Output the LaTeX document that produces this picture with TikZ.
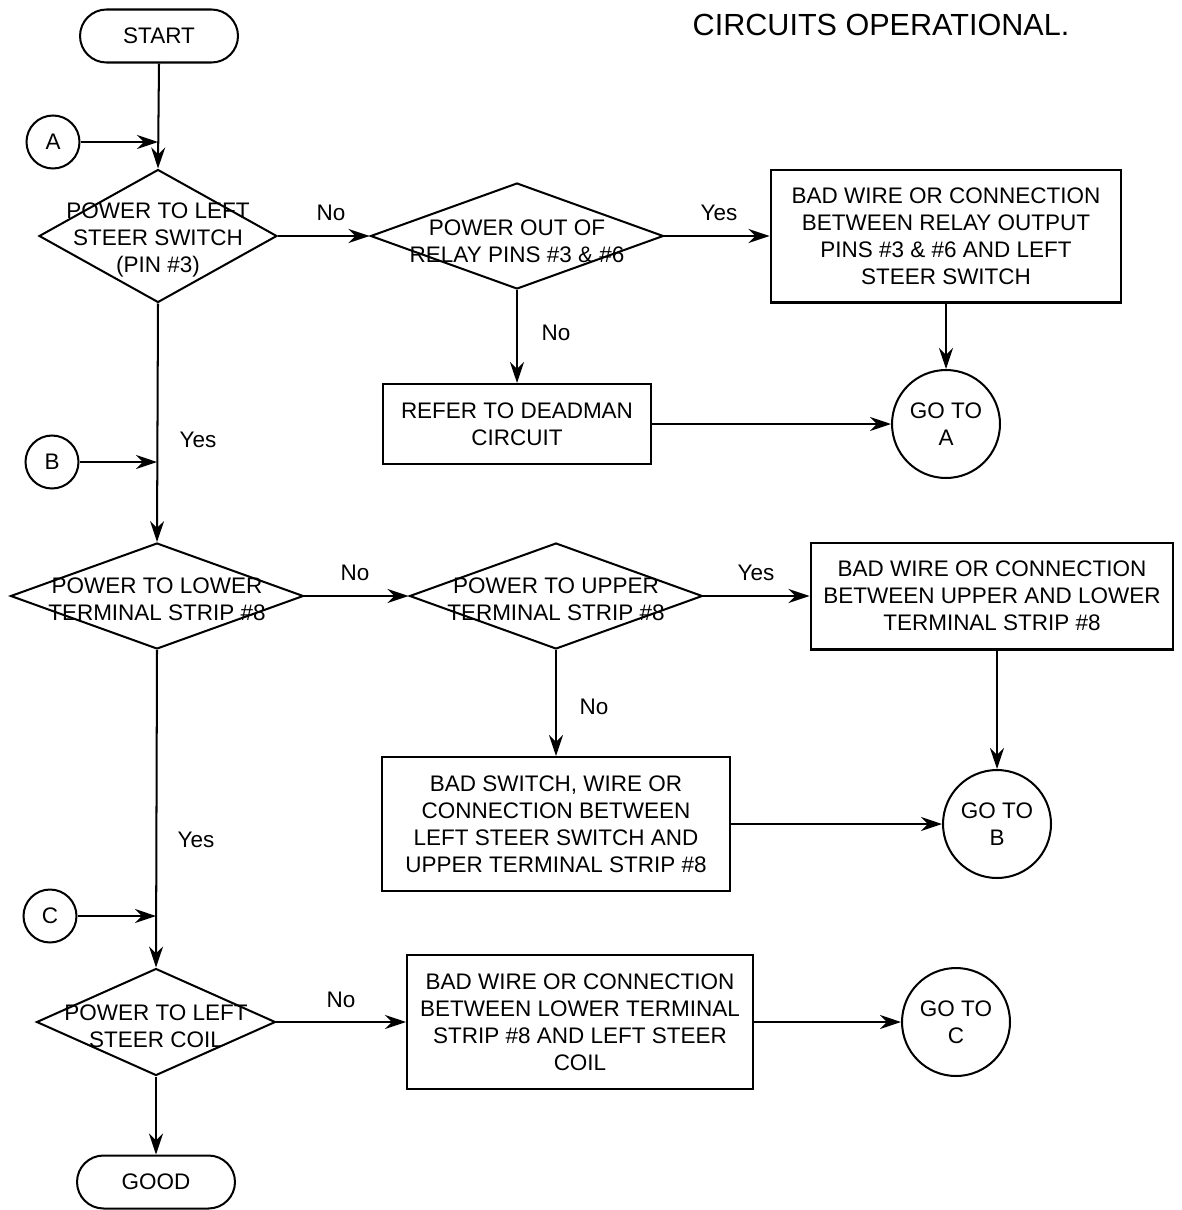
\documentclass[tikz,border=0pt]{standalone}
\usepackage{fontspec}
\setmainfont{Liberation Sans}
\usetikzlibrary{arrows.meta,shapes.geometric}
\newcommand{\FlowText}{\fontsize{12.8}{15.4}\selectfont}
\newcommand{\FlowTitle}{\fontsize{17.4}{20}\selectfont}
\tikzset{
  flowbase/.style={
    draw=black,
    line width=1.15pt,
    align=center,
    inner sep=2pt,
    font=\FlowText
  },
  flowbox/.style={flowbase, rectangle},
  terminalbox/.style={
    flowbase,
    rectangle,
    rounded corners=0.53cm,
    minimum width=3.16cm,
    minimum height=1.06cm
  },
  decisionbox/.style={flowbase, diamond, inner sep=0pt},
  decisiontext/.style={align=center, inner sep=0pt, font=\FlowText},
  connbox/.style={flowbase, circle, minimum size=1.06cm, inner sep=0pt},
  gotobox/.style={flowbase, circle, minimum size=2.16cm, inner sep=0pt},
  mainarrow/.style={
    -{Stealth[length=4.2mm,width=2.8mm]},
    draw=black,
    line width=1.15pt
  },
  arrowlabel/.style={inner sep=1pt, font=\FlowText}
}

\begin{document}
\begin{tikzpicture}[x=0.02cm,y=-0.02cm]
\path[use as bounding box] (0,0) rectangle (1181,1210);

\node[font=\FlowTitle] (title) at (881,25) {CIRCUITS OPERATIONAL.};

% left column
\node[terminalbox] (start) at (159,36) {START};
\node[decisionbox, minimum width=4.76cm, minimum height=2.66cm] (qswitch) at (158,236) {};
\node[decisiontext] (qswitchtext) at (158,240) {POWER TO LEFT\\STEER SWITCH\\(PIN \#3)};
\node[decisionbox, minimum width=5.86cm, minimum height=2.12cm] (qlower) at (157,596) {};
\node[decisiontext] (qlowertext) at (157,599) {POWER TO LOWER\\TERMINAL STRIP \#8};
\node[decisionbox, minimum width=4.78cm, minimum height=2.14cm] (qcoil) at (156,1022) {};
\node[decisiontext] (qcoiltext) at (156,1026) {POWER TO LEFT\\STEER COIL};
\node[terminalbox] (good) at (156,1182) {GOOD};

\node[connbox] (ina) at (53,142) {A};
\node[connbox] (inb) at (52,462) {B};
\node[connbox] (inc) at (50,916) {C};

% relay branch
\node[decisionbox, minimum width=5.86cm, minimum height=2.12cm] (qrelay) at (517,236) {};
\node[decisiontext] (qrelaytext) at (517,241) {POWER OUT OF\\RELAY PINS \#3 \& \#6};
\node[flowbox, minimum width=7.02cm, minimum height=2.66cm] (badrelay) at (946,236)
  {BAD WIRE OR CONNECTION\\BETWEEN RELAY OUTPUT\\PINS \#3 \& \#6 AND LEFT\\STEER SWITCH};
\node[flowbox, minimum width=5.36cm, minimum height=1.60cm] (deadman) at (517,424)
  {REFER TO DEADMAN\\CIRCUIT};
\node[gotobox] (gotoa) at (946,424) {GO TO\\A};

% terminal strip branch
\node[decisionbox, minimum width=5.86cm, minimum height=2.12cm] (qupper) at (556,596) {};
\node[decisiontext] (qupperttext) at (556,599) {POWER TO UPPER\\TERMINAL STRIP \#8};
\node[flowbox, minimum width=7.26cm, minimum height=2.14cm] (badstrip) at (992,596)
  {BAD WIRE OR CONNECTION\\BETWEEN UPPER AND LOWER\\TERMINAL STRIP \#8};
\node[flowbox, minimum width=6.96cm, minimum height=2.68cm] (badswitch) at (556,824)
  {BAD SWITCH, WIRE OR\\CONNECTION BETWEEN\\LEFT STEER SWITCH AND\\UPPER TERMINAL STRIP \#8};
\node[gotobox] (gotob) at (997,824) {GO TO\\B};

% coil branch
\node[flowbox, minimum width=6.92cm, minimum height=2.68cm] (badcoil) at (580,1022)
  {BAD WIRE OR CONNECTION\\BETWEEN LOWER TERMINAL\\STRIP \#8 AND LEFT STEER\\COIL};
\node[gotobox] (gotoc) at (956,1022) {GO TO\\C};

% main column
\draw[mainarrow] (start.south) -- (qswitch.north);
\draw[mainarrow] (qswitch.south) -- (qlower.north);
\draw[mainarrow] (qlower.south) -- (qcoil.north);
\draw[mainarrow] (qcoil.south) -- (good.north);
\draw[mainarrow] (ina.east) -- (ina.east -| qswitch.north);
\draw[mainarrow] (inb.east) -- (inb.east -| qlower.north);
\draw[mainarrow] (inc.east) -- (inc.east -| qcoil.north);

% side branches
\draw[mainarrow] (qswitch.east) -- (qrelay.west);
\draw[mainarrow] (qrelay.east) -- (badrelay.west);
\draw[mainarrow] (qrelay.south) -- (deadman.north);
\draw[mainarrow] (badrelay.south) -- (gotoa.north);
\draw[mainarrow] (deadman.east) -- (gotoa.west);

\draw[mainarrow] (qlower.east) -- (qupper.west);
\draw[mainarrow] (qupper.east) -- (badstrip.west);
\draw[mainarrow] (qupper.south) -- (badswitch.north);
\draw[mainarrow] (gotob.north |- badstrip.south) -- (gotob.north);
\draw[mainarrow] (badswitch.east) -- (gotob.west);

\draw[mainarrow] (qcoil.east) -- (badcoil.west);
\draw[mainarrow] (badcoil.east) -- (gotoc.west);

% branch labels
\node[arrowlabel] (lnoa) at (331,213) {No};
\node[arrowlabel] (lyesa) at (719,213) {Yes};
\node[arrowlabel] (lnob) at (556,333) {No};
\node[arrowlabel] (lyesb) at (198,440) {Yes};
\node[arrowlabel] (lnoc) at (355,573) {No};
\node[arrowlabel] (lyesc) at (756,573) {Yes};
\node[arrowlabel] (lnod) at (594,707) {No};
\node[arrowlabel] (lyesd) at (196,840) {Yes};
\node[arrowlabel] (lnoe) at (341,1000) {No};

\end{tikzpicture}
\end{document}
